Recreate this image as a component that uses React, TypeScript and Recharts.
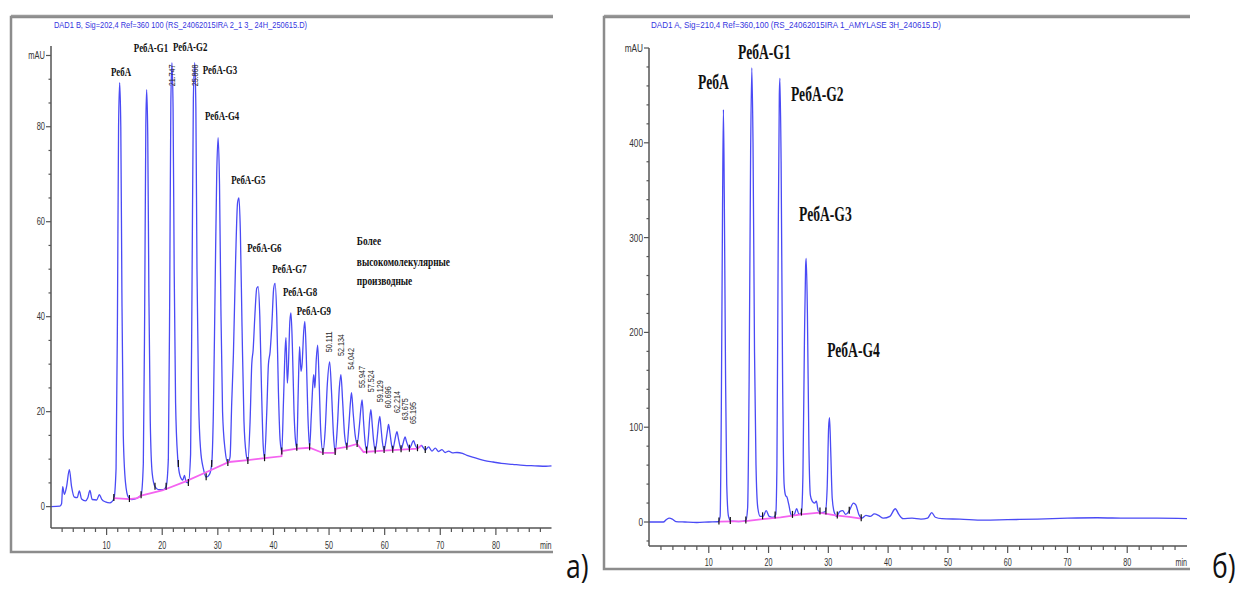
import React from 'react';
import { ComposedChart, Line, Scatter, XAxis, YAxis } from 'recharts';

// ---------- Panel a) : time (min), signal (mAU) ----------
const traceA: [number, number][] = [
  [0, 0], [1.6, 0.1], [1.9, 0.6], [2.1, 4.2], [2.4, 2.6], [2.8, 4.2], [3.3, 7.8], [3.7, 4.2], [4.2, 2.0], [4.7, 1.9], [5.1, 3.3], [5.5, 1.6], [6.2, 1.2], [6.6, 1.8], [7.0, 3.4], [7.4, 1.5], [8.2, 1.4], [8.7, 2.5], [9.1, 1.6], [9.8, 1.0], [10.6, 0.8], [11.3, 1.6],
  [11.7, 8], [11.95, 40], [12.15, 80], [12.35, 89.3], [12.55, 80], [12.75, 45], [13.0, 15], [13.4, 5], [13.9, 2], [14.5, 1.5], [15.5, 1.8], [16.2, 2.4],
  [16.6, 9], [16.85, 42], [17.05, 80], [17.2, 87.8], [17.4, 78], [17.6, 45], [17.85, 18], [18.2, 7], [18.7, 4.2], [19.3, 3.6], [20.2, 3.6], [20.7, 4.2],
  [21.1, 10], [21.35, 45], [21.55, 85], [21.75, 93.5], [21.95, 84], [22.15, 50], [22.4, 22], [22.8, 10], [23.2, 6.5], [23.7, 5.6], [24.0, 6.6], [24.3, 5.2], [24.7, 5.0],
  [25.1, 11], [25.35, 45], [25.6, 86], [25.85, 93.5], [26.05, 84], [26.25, 50], [26.55, 22], [26.9, 12], [27.4, 8], [27.9, 6.2], [28.5, 6.8], [28.9, 9],
  [29.2, 20], [29.5, 45], [29.8, 70], [30.05, 77.7], [30.3, 68], [30.55, 42], [30.85, 20], [31.3, 12], [31.8, 9.2], [32.2, 10.5],
  [32.5, 22], [32.8, 32], [33.2, 52], [33.55, 64], [33.8, 65], [34.05, 58], [34.35, 38], [34.7, 18], [35.1, 11], [35.4, 9.6],
  [35.8, 18], [36.1, 30], [36.35, 33], [36.65, 40], [37.0, 46], [37.25, 46.3], [37.55, 40], [37.85, 25], [38.15, 13], [38.4, 10.2],
  [38.8, 20], [39.1, 30], [39.4, 32.6], [39.7, 38], [40.05, 46], [40.3, 47], [40.6, 40], [40.9, 24], [41.2, 14], [41.5, 11.6],
  [41.8, 22], [42.1, 33], [42.25, 35.6], [42.5, 26], [42.7, 30], [42.95, 39], [43.15, 40.8], [43.4, 34], [43.7, 20], [44.0, 13.5], [44.2, 12.4],
  [44.45, 24], [44.7, 33.7], [44.95, 28.5], [45.15, 30], [45.45, 37], [45.65, 39], [45.9, 32], [46.2, 19], [46.5, 12.5],
  [46.8, 19], [47.1, 26], [47.25, 27.8], [47.45, 25], [47.7, 31], [47.95, 34], [48.2, 27], [48.5, 16], [48.9, 11.5],
  [49.3, 16], [49.7, 26], [50.11, 30.5], [50.45, 24], [50.8, 15], [51.1, 11.5],
  [51.5, 17], [51.85, 25], [52.13, 27.8], [52.45, 22], [52.8, 15], [53.2, 12.6],
  [53.55, 17], [53.85, 22], [54.04, 24], [54.35, 19.5], [54.7, 15], [55.05, 13.2],
  [55.45, 17], [55.75, 21], [55.95, 22.5], [56.2, 18], [56.45, 14], [56.75, 11.8],
  [57.1, 15], [57.3, 18.5], [57.52, 20.4], [57.75, 17.5], [58.0, 14], [58.3, 11.8],
  [58.65, 14.5], [58.9, 17.5], [59.13, 19], [59.35, 16.5], [59.6, 13.5], [59.9, 11.9],
  [60.25, 14], [60.5, 16], [60.7, 17.3], [60.95, 15.5], [61.2, 13.3], [61.45, 12],
  [61.8, 13.8], [62.0, 15], [62.21, 15.8], [62.45, 14.5], [62.7, 13], [62.95, 12.1],
  [63.3, 13.3], [63.5, 14.2], [63.68, 14.7], [63.9, 13.8], [64.2, 12.8], [64.45, 12.2],
  [64.8, 13], [65.0, 13.6], [65.2, 13.9], [65.4, 13.3], [65.65, 12.6], [65.9, 12.3],
  [66.3, 12.6], [66.6, 12.9], [66.9, 12.5], [67.3, 11.9], [67.9, 12.6], [68.5, 11.7], [69.1, 12.3], [69.7, 11.6], [70.3, 12.0], [70.9, 11.4], [71.5, 11.7], [72.2, 11.3], [73.0, 11.4], [74.0, 11.2], [74.8, 10.8], [75.8, 10.4], [77.0, 10.0], [78.0, 9.7], [79.5, 9.4], [81.0, 9.1], [83.0, 8.9], [85.0, 8.7], [87.0, 8.6], [89.0, 8.5], [90, 8.6],
];

const baselineA: [number, number][] = [
  [11.3, 1.8], [14.1, 1.6], [15.5, 1.8], [16.2, 2.3], [20, 3.4], [24, 5.2], [28, 7.3], [32, 9.4], [35.4, 9.8], [38.4, 10.2], [41.45, 10.6], [41.5, 11.7], [44.2, 12.2], [46.5, 12.4], [48.9, 11.3], [51.1, 11.3], [51.2, 12.2], [53.2, 12.6], [55.05, 13.2], [56.2, 11.5], [59.9, 11.8], [62.95, 12.0], [65.9, 12.2], [66.6, 12.9],
];

const marksA: [number, number][] = [
  [11.3, 1.8], [14.1, 1.6], [16.2, 2.4], [18.7, 4.2], [20.7, 4.2], [22.9, 9], [24.7, 5.0], [27.9, 6.2], [28.9, 9], [31.8, 9.2], [35.4, 9.6], [38.4, 10.2], [41.5, 11.6], [44.2, 12.4], [46.5, 12.5], [48.9, 11.5], [51.1, 11.5], [53.2, 12.6], [55.05, 13.2], [56.75, 11.8], [58.3, 11.8], [59.9, 11.9], [61.45, 12], [62.95, 12.1], [64.45, 12.2], [65.9, 12.3], [67.3, 11.9],
];

const peakNamesA = [
  { t: 10.8, v: 91.7, text: 'РебА' },
  { t: 14.9, v: 96.8, text: 'РебА-G1' },
  { t: 21.95, v: 96.9, text: 'РебА-G2' },
  { t: 27.3, v: 92.1, text: 'РебА-G3' },
  { t: 27.7, v: 82.3, text: 'РебА-G4' },
  { t: 32.4, v: 68.9, text: 'РебА-G5' },
  { t: 35.3, v: 54.7, text: 'РебА-G6' },
  { t: 39.8, v: 50.1, text: 'РебА-G7' },
  { t: 41.7, v: 45.4, text: 'РебА-G8' },
  { t: 44.2, v: 41.4, text: 'РебА-G9' },
];

const noteA = [
  { t: 55.0, v: 56.1, text: 'Более' },
  { t: 55.0, v: 51.7, text: 'высокомолекулярные' },
  { t: 55.0, v: 47.7, text: 'производные' },
];

const rtLabelsA = [
  { t: 21.75, v: 88.5, text: '21.747' },
  { t: 25.85, v: 88.5, text: '25.868' },
  { t: 50.11, v: 32.5, text: '50.111' },
  { t: 52.13, v: 31.7, text: '52.134' },
  { t: 54.04, v: 28.8, text: '54.042' },
  { t: 55.95, v: 25.0, text: '55.947' },
  { t: 57.52, v: 24.1, text: '57.524' },
  { t: 59.13, v: 22.0, text: '59.129' },
  { t: 60.7, v: 20.7, text: '60.696' },
  { t: 62.21, v: 19.7, text: '62.214' },
  { t: 63.68, v: 18.2, text: '63.675' },
  { t: 65.2, v: 17.4, text: '65.195' },
];

// ---------- Panel б) ----------
const traceB: [number, number][] = [
  [0, 0], [2.4, 0], [2.9, 2.5], [3.4, 4], [3.9, 3], [4.5, 0.5], [6, 0], [8, -0.5], [10, 0], [11.6, 0.3],
  [11.9, 6], [12.1, 120], [12.3, 330], [12.45, 435], [12.6, 340], [12.8, 160], [13.0, 40], [13.3, 6], [13.7, 1], [15, 0.5], [16.2, 1.5],
  [16.5, 15], [16.75, 150], [17.0, 390], [17.2, 479], [17.4, 400], [17.65, 180], [17.9, 60], [18.2, 15], [18.6, 6], [19.1, 6], [19.6, 12], [20.1, 6], [20.8, 5], [21.2, 8],
  [21.4, 60], [21.6, 280], [21.8, 450], [21.9, 468], [22.1, 380], [22.35, 150], [22.6, 40], [22.85, 28], [23.1, 26], [23.4, 18], [23.8, 7], [24.3, 8], [24.7, 14], [25.1, 8], [25.5, 10],
  [25.75, 50], [26.0, 190], [26.2, 270], [26.3, 278], [26.5, 220], [26.75, 80], [27.0, 28], [27.3, 22], [27.7, 20], [28.0, 22], [28.3, 12], [28.8, 10], [29.5, 11],
  [29.8, 35], [30.05, 100], [30.2, 110], [30.4, 75], [30.65, 25], [31.0, 10], [31.4, 6], [31.9, 11], [32.4, 12], [32.9, 8], [33.5, 12], [34.2, 20], [34.6, 18], [35.1, 8], [35.6, 4], [36.3, 7], [37.0, 6], [37.7, 8.5], [38.4, 7], [39.2, 4], [40.3, 6], [41.2, 14], [41.8, 8], [42.5, 3.5], [44, 4], [45.5, 3], [46.6, 4], [47.3, 10], [47.9, 5], [49, 3.5], [52, 3], [56, 2], [60, 2.5], [65, 3], [70, 4], [75, 4.5], [80, 4], [85, 4], [90, 3.5],
];

const baselineB: [number, number][] = [
  [11.7, 0.5], [16.2, 1], [19, 3], [22, 5], [25.5, 8], [28.5, 10], [31.2, 7], [33.5, 5.5], [35.5, 3.5],
];

const marksB: [number, number][] = [
  [11.7, 0.5], [13.6, 1], [16.2, 1.5], [19.0, 6], [21.1, 7], [24.0, 7.5], [25.5, 10], [28.6, 11], [29.6, 11], [31.5, 7], [33.5, 12], [35.5, 4],
];

const peakNamesB = [
  { t: 8.2, v: 464, text: 'РебА' },
  { t: 14.9, v: 495, text: 'РебА-G1' },
  { t: 23.75, v: 451, text: 'РебА-G2' },
  { t: 25.1, v: 324, text: 'РебА-G3' },
  { t: 29.8, v: 181, text: 'РебА-G4' },
];

// ---------- Axes ----------
const xTicks = [2, 4, 6, 8, 10, 12, 14, 16, 18, 20, 22, 24, 26, 28, 30, 32, 34, 36, 38, 40, 42, 44, 46, 48, 50, 52, 54, 56, 58, 60, 62, 64, 66, 68, 70, 72, 74, 76, 78, 80, 82, 84, 86, 88, 90];
const yTicksA = [0, 5, 10, 15, 20, 25, 30, 35, 40, 45, 50, 55, 60, 65, 70, 75, 80, 85, 90, 95];
const yMajorA = [0, 20, 40, 60, 80];
const yTicksB = [-20, 0, 20, 40, 60, 80, 100, 120, 140, 160, 180, 200, 220, 240, 260, 280, 300, 320, 340, 360, 380, 400, 420, 440, 460, 480, 500];
const yMajorB = [0, 100, 200, 300, 400];

const SERIF = '"Liberation Serif", "Times New Roman", serif';
const SANS = '"Liberation Sans", Arial, sans-serif';
const BLUE = '#4a4af5';
const PINK = '#f463f0';
const AXIS = '#555';

const pts = (arr: [number, number][]) => arr.map(([t, v]) => ({ t, v }));

function SText(props: any) {
  const { x, y, sx = 1, rot = 0, anchor = 'start', size = 10, weight = 'normal', family = SANS, fill = '#333', children } = props;
  return (
    <text
      transform={`translate(${x},${y}) rotate(${rot}) scale(${sx},1)`}
      textAnchor={anchor}
      dominantBaseline="central"
      fontSize={size}
      fontWeight={weight}
      fontFamily={family}
      fill={fill}
    >
      {children}
    </text>
  );
}

function makeXTick(labelDy: number) {
  return (props: any) => {
    const { x, y, payload } = props;
    const v = payload.value;
    if (v === 90) {
      return <SText x={x} y={y + labelDy} anchor="end" sx={0.72} size={10}>min</SText>;
    }
    const major = v % 10 === 0;
    return (
      <g>
        <line x1={x} x2={x} y1={y} y2={y + (major ? 7 : 4)} stroke={AXIS} strokeWidth={1.2} />
        {major ? <SText x={x} y={y + labelDy} anchor="middle" sx={0.72} size={10}>{v}</SText> : null}
      </g>
    );
  };
}

function makeYTick(majors: number[], top: number, size: number) {
  return (props: any) => {
    const { x, y, payload } = props;
    const v = payload.value;
    const isTop = v === top;
    const major = isTop || majors.includes(v);
    return (
      <g>
        <line x1={x - (major ? 5 : 2.5)} x2={x} y1={y} y2={y} stroke={AXIS} strokeWidth={1.2} />
        {major ? <SText x={x - 6} y={y} anchor="end" sx={0.75} size={size}>{isTop ? 'mAU' : v}</SText> : null}
      </g>
    );
  };
}

const markShape = (p: any) => (
  <line x1={p.cx} x2={p.cx} y1={p.cy - 4} y2={p.cy + 3} stroke="#111" strokeWidth={1.2} />
);

function nameShape(size: number, sx: number) {
  return (p: any) => (
    <SText x={p.cx} y={p.cy} sx={sx} size={size} weight="bold" family={SERIF} fill="#111">{p.payload.text}</SText>
  );
}

const rtShape = (p: any) => (
  <SText x={p.cx} y={p.cy} rot={-90} sx={0.8} size={9} fill="#2a2a2a">{p.payload.text}</SText>
);

export default function App() {
  const dA = pts(traceA);
  const bA = pts(baselineA);
  const mA = pts(marksA);
  const dB = pts(traceB);
  const bB = pts(baselineB);
  const mB = pts(marksB);
  const axisLine = { stroke: AXIS, strokeWidth: 1.5 };

  return (
    <div style={{ position: 'absolute', left: 0, top: 0, width: 1237, height: 590, background: '#fff' }}>
      <div style={{ position: 'absolute', left: 0, top: 0 }}>
        <ComposedChart width={560} height={560} margin={{ top: 46, right: 8.5, bottom: 2, left: 11 }}>
          <XAxis type="number" dataKey="t" domain={[0, 90]} ticks={xTicks} interval={0} tickSize={0} tickMargin={0} tickLine={false} tick={makeXTick(18)} axisLine={axisLine} height={30} />
          <YAxis type="number" domain={[-4.5, 97]} ticks={yTicksA} interval={0} tickSize={0} tickMargin={0} tickLine={false} tick={makeYTick(yMajorA, 95, 10)} axisLine={axisLine} width={40} />
          <Line data={dA} dataKey="v" type="monotone" stroke={BLUE} strokeWidth={1.3} dot={false} isAnimationActive={false} />
          <Line data={bA} dataKey="v" type="linear" stroke={PINK} strokeWidth={1.8} dot={false} isAnimationActive={false} />
          <Scatter data={mA} dataKey="v" shape={markShape} isAnimationActive={false} />
          <Scatter data={rtLabelsA} dataKey="v" shape={rtShape} isAnimationActive={false} />
          <Scatter data={peakNamesA} dataKey="v" shape={nameShape(13, 0.68)} isAnimationActive={false} />
          <Scatter data={noteA} dataKey="v" shape={nameShape(13, 0.72)} isAnimationActive={false} />
        </ComposedChart>
      </div>
      <div style={{ position: 'absolute', left: 600, top: 0 }}>
        <ComposedChart width={600} height={580} margin={{ top: 48, right: 13, bottom: 4, left: 9 }}>
          <XAxis type="number" dataKey="t" domain={[0, 90]} ticks={xTicks} interval={0} tickSize={0} tickMargin={0} tickLine={false} tick={makeXTick(17)} axisLine={axisLine} height={30} />
          <YAxis type="number" domain={[-25.3, 500]} ticks={yTicksB} interval={0} tickSize={0} tickMargin={0} tickLine={false} tick={makeYTick(yMajorB, 500, 11)} axisLine={axisLine} width={40} />
          <Line data={dB} dataKey="v" type="monotone" stroke={BLUE} strokeWidth={1.3} dot={false} isAnimationActive={false} />
          <Line data={bB} dataKey="v" type="linear" stroke={PINK} strokeWidth={1.8} dot={false} isAnimationActive={false} />
          <Scatter data={mB} dataKey="v" shape={markShape} isAnimationActive={false} />
          <Scatter data={peakNamesB} dataKey="v" shape={nameShape(20, 0.68)} isAnimationActive={false} />
        </ComposedChart>
      </div>
      <svg width={1237} height={590} style={{ position: 'absolute', left: 0, top: 0, pointerEvents: 'none' }}>
        <polyline points="553,17 11,17 11,552 553,552" fill="none" stroke="#8c8c8c" strokeWidth={2.5} />
        <line x1={11} x2={553} y1={15.5} y2={15.5} stroke="#9a9a9a" strokeWidth={1.5} />
        <polyline points="1190,17 604,17 604,569 1190,569" fill="none" stroke="#8c8c8c" strokeWidth={2.5} />
        <line x1={604} x2={1190} y1={15.5} y2={15.5} stroke="#9a9a9a" strokeWidth={1.5} />
        <text x={54} y={25} dominantBaseline="central" fontSize={9} fontFamily={SANS} fill="#3535e0" textLength={253} lengthAdjust="spacingAndGlyphs">DAD1 B, Sig=202,4 Ref=360 100 (RS_24062015IRA 2_1 3_ 24H_250615.D)</text>
        <text x={651} y={25} dominantBaseline="central" fontSize={9} fontFamily={SANS} fill="#3535e0" textLength={290} lengthAdjust="spacingAndGlyphs">DAD1 A, Sig=210,4 Ref=360,100 (RS_24062015IRA 1_AMYLASE 3H_240615.D)</text>
        <text transform="translate(566,578) scale(0.83,1)" fontSize={32} fontFamily='"Open Sans", "Noto Sans", sans-serif' fill="#111">a)</text>
        <text transform="translate(1212,578) scale(0.83,1)" fontSize={32} fontFamily='"Open Sans", "Noto Sans", sans-serif' fill="#111">б)</text>
      </svg>
    </div>
  );
}
